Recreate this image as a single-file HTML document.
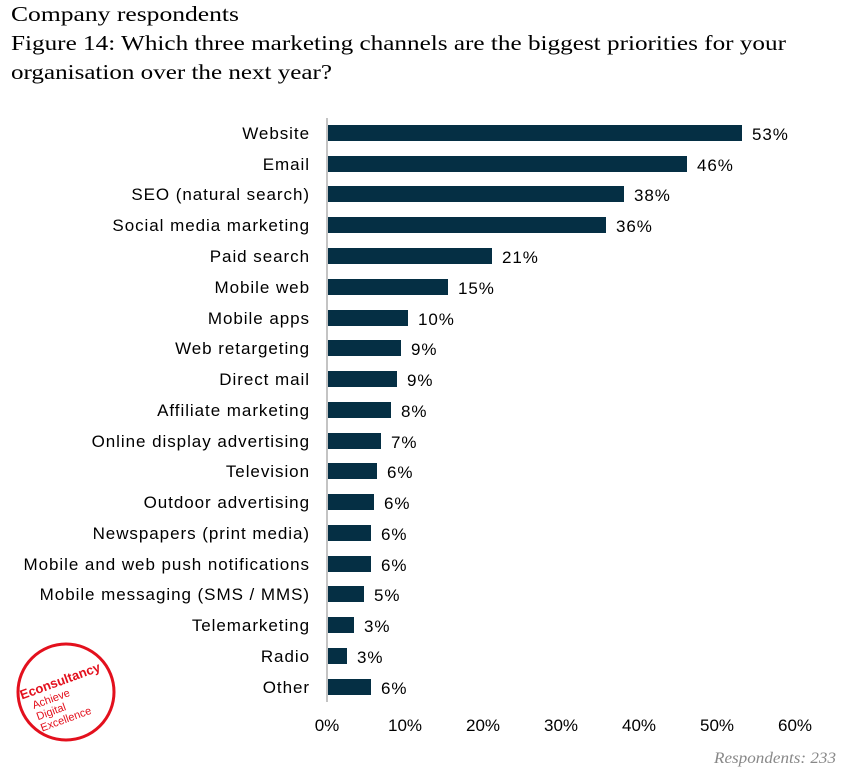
<!DOCTYPE html>
<html><head><meta charset="utf-8"><style>
body{margin:0;background:#fff;width:847px;height:768px;overflow:hidden}
</style></head><body>
<svg width="847" height="768" xmlns="http://www.w3.org/2000/svg">
<g font-family="Liberation Serif, serif" font-size="21" fill="#000">
<text x="11" y="21" textLength="228" lengthAdjust="spacingAndGlyphs">Company respondents</text>
<text x="11" y="50" textLength="775" lengthAdjust="spacingAndGlyphs">Figure 14: Which three marketing channels are the biggest priorities for your</text>
<text x="11" y="79" textLength="321" lengthAdjust="spacingAndGlyphs">organisation over the next year?</text>
</g>
<line x1="327" y1="118" x2="327" y2="702" stroke="#888" stroke-width="1"/>
<g id="rows" font-family="Liberation Sans, sans-serif" font-size="17" letter-spacing="0.95">
<rect x="328" y="125" width="414" height="16" fill="#052f44"/><text x="310" y="139" text-anchor="end">Website</text><text x="752" y="140">53%</text>
<rect x="328" y="156" width="359" height="16" fill="#052f44"/><text x="310" y="170" text-anchor="end">Email</text><text x="697" y="171">46%</text>
<rect x="328" y="186" width="296" height="16" fill="#052f44"/><text x="310" y="200" text-anchor="end">SEO (natural search)</text><text x="634" y="201">38%</text>
<rect x="328" y="217" width="278" height="16" fill="#052f44"/><text x="310" y="231" text-anchor="end">Social media marketing</text><text x="616" y="232">36%</text>
<rect x="328" y="248" width="164" height="16" fill="#052f44"/><text x="310" y="262" text-anchor="end">Paid search</text><text x="502" y="263">21%</text>
<rect x="328" y="279" width="120" height="16" fill="#052f44"/><text x="310" y="293" text-anchor="end">Mobile web</text><text x="458" y="294">15%</text>
<rect x="328" y="310" width="80" height="16" fill="#052f44"/><text x="310" y="324" text-anchor="end">Mobile apps</text><text x="418" y="325">10%</text>
<rect x="328" y="340" width="73" height="16" fill="#052f44"/><text x="310" y="354" text-anchor="end">Web retargeting</text><text x="411" y="355">9%</text>
<rect x="328" y="371" width="69" height="16" fill="#052f44"/><text x="310" y="385" text-anchor="end">Direct mail</text><text x="407" y="386">9%</text>
<rect x="328" y="402" width="63" height="16" fill="#052f44"/><text x="310" y="416" text-anchor="end">Affiliate marketing</text><text x="401" y="417">8%</text>
<rect x="328" y="433" width="53" height="16" fill="#052f44"/><text x="310" y="447" text-anchor="end">Online display advertising</text><text x="391" y="448">7%</text>
<rect x="328" y="463" width="49" height="16" fill="#052f44"/><text x="310" y="477" text-anchor="end">Television</text><text x="387" y="478">6%</text>
<rect x="328" y="494" width="46" height="16" fill="#052f44"/><text x="310" y="508" text-anchor="end">Outdoor advertising</text><text x="384" y="509">6%</text>
<rect x="328" y="525" width="43" height="16" fill="#052f44"/><text x="310" y="539" text-anchor="end">Newspapers (print media)</text><text x="381" y="540">6%</text>
<rect x="328" y="556" width="43" height="16" fill="#052f44"/><text x="310" y="570" text-anchor="end">Mobile and web push notifications</text><text x="381" y="571">6%</text>
<rect x="328" y="586" width="36" height="16" fill="#052f44"/><text x="310" y="600" text-anchor="end">Mobile messaging (SMS / MMS)</text><text x="374" y="601">5%</text>
<rect x="328" y="617" width="26" height="16" fill="#052f44"/><text x="310" y="631" text-anchor="end">Telemarketing</text><text x="364" y="632">3%</text>
<rect x="328" y="648" width="19" height="16" fill="#052f44"/><text x="310" y="662" text-anchor="end">Radio</text><text x="357" y="663">3%</text>
<rect x="328" y="679" width="43" height="16" fill="#052f44"/><text x="310" y="693" text-anchor="end">Other</text><text x="381" y="694">6%</text>
</g>
<g font-family="Liberation Sans, sans-serif" font-size="17" text-anchor="middle">
<text x="327" y="731">0%</text><text x="405" y="731">10%</text><text x="483" y="731">20%</text><text x="561" y="731">30%</text><text x="639" y="731">40%</text><text x="717" y="731">50%</text><text x="795" y="731">60%</text>
</g>
<text x="836" y="763" text-anchor="end" font-family="Liberation Serif, serif" font-style="italic" font-size="16" fill="#888" textLength="122" lengthAdjust="spacingAndGlyphs">Respondents: 233</text>
<g>
<circle cx="66" cy="692" r="48" fill="none" stroke="#e3101d" stroke-width="3"/>
<g transform="rotate(-20 66 692)" font-family="Liberation Sans, sans-serif" fill="#e3101d">
<text x="22" y="684" font-size="13" font-weight="bold">Econsultancy</text>
<text x="30" y="697" font-size="11">Achieve</text>
<text x="30" y="709" font-size="11">Digital</text>
<text x="30" y="721" font-size="11">Excellence</text>
</g>
</g>
</svg>
</body></html>
